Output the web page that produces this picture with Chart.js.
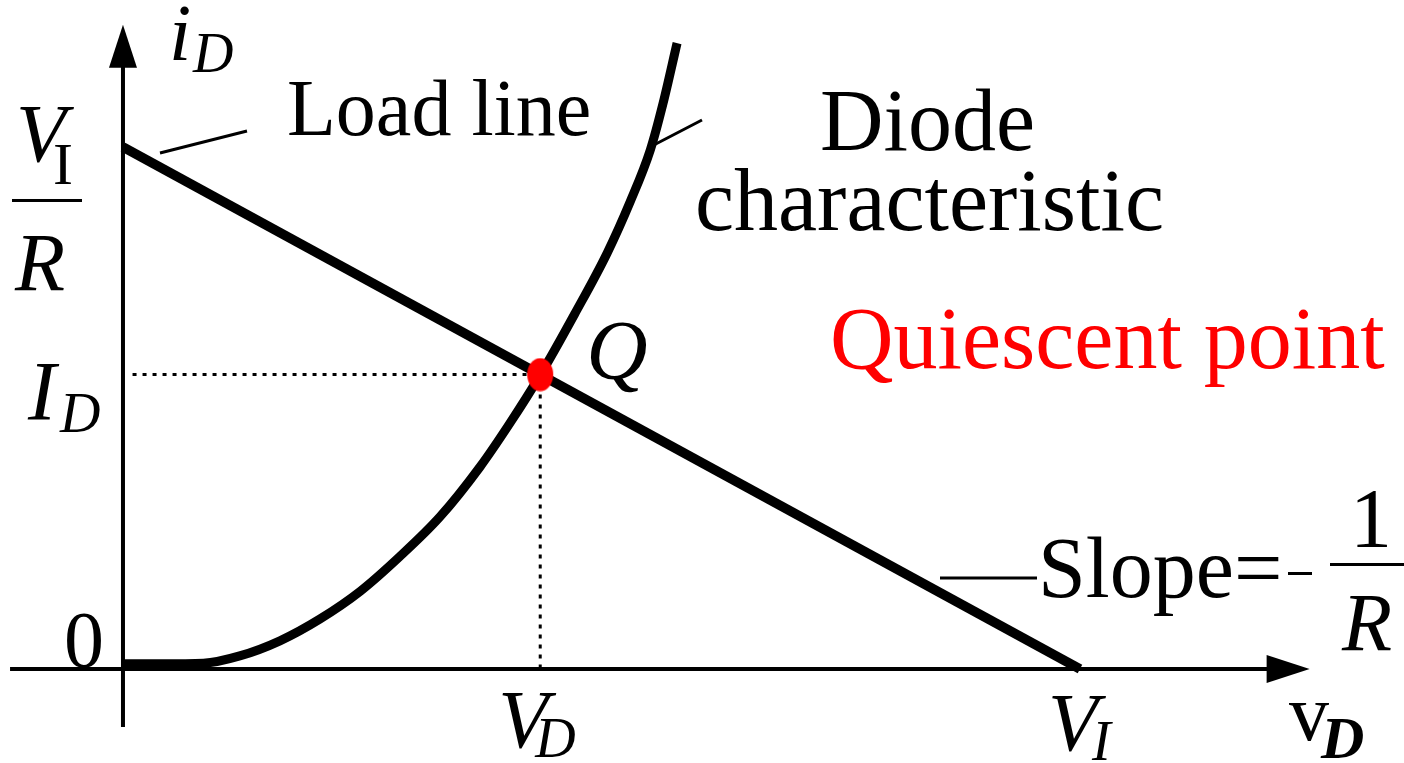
<!DOCTYPE html>
<html>
<head>
<meta charset="utf-8">
<title>Diode load line</title>
<script src="https://cdn.jsdelivr.net/npm/chart.js@4"></script>
<style>
  html, body { margin: 0; padding: 0; background: #fff; }
  #wrap { width: 1404px; height: 763px; }
</style>
</head>
<body>
<div id="wrap"><canvas id="c" width="1404" height="763"></canvas></div>
<script>
// Supply voltage and load-line intercepts (normalised units: V_I = 10, V_I/R = 10)
const loadV = [0, 10];
const loadI = [10, 0];

// Diode i-v characteristic, read point by point
const diodeV = [0, 0.39, 0.84, 1.22, 1.64, 2.06, 2.48, 2.89, 3.31, 3.73, 4.04, 4.36, 4.72, 5.06, 5.30, 5.51, 5.64, 5.79];
const diodeI = [0.10, 0.10, 0.11, 0.25, 0.54, 0.96, 1.49, 2.15, 2.91, 3.87, 4.70, 5.63, 6.80, 7.97, 8.95, 9.94, 10.81, 11.99];

// Operating (quiescent) point
const qV = [4.36];
const qI = [5.64];

// Axis extents (where the axis lines and arrows end)
const axisX = [-1.18, 12.40];
const axisY = [-1.11, 12.34];

const toPts = (xs, ys) => xs.map((x, i) => ({ x, y: ys[i] }));

// red operating-point marker (slightly tall ellipse)
const dot = document.createElement('canvas');
dot.width = 28; dot.height = 34;
{
  const g = dot.getContext('2d');
  g.fillStyle = '#ff0000';
  g.beginPath();
  g.ellipse(14, 17, 13, 16.5, 0, 0, Math.PI * 2);
  g.fill();
}

const SERIF = '"Liberation Serif", "Times New Roman", serif';

const axesPlugin = {
  id: 'axesArrows',
  beforeDatasetsDraw(chart) {
    const { ctx, scales: { x, y } } = chart;
    const x0 = x.getPixelForValue(0), y0 = y.getPixelForValue(0);
    const xs = x.getPixelForValue(axisX[0]), xe = x.getPixelForValue(axisX[1]);
    const ys = y.getPixelForValue(axisY[0]), ye = y.getPixelForValue(axisY[1]);
    ctx.save();
    ctx.strokeStyle = '#000';
    ctx.fillStyle = '#000';
    ctx.lineWidth = 4;
    ctx.beginPath();
    ctx.moveTo(xs, y0); ctx.lineTo(xe - 30, y0);
    ctx.moveTo(x0, ys); ctx.lineTo(x0, ye + 30);
    ctx.stroke();
    // arrow heads
    ctx.beginPath();
    ctx.moveTo(xe, y0); ctx.lineTo(xe - 43, y0 - 14); ctx.lineTo(xe - 43, y0 + 14); ctx.closePath();
    ctx.fill();
    ctx.beginPath();
    ctx.moveTo(x0, ye); ctx.lineTo(x0 - 14, ye + 43); ctx.lineTo(x0 + 14, ye + 43); ctx.closePath();
    ctx.fill();
    ctx.restore();
  }
};

function txt(ctx, s, px, py, size, style, color) {
  ctx.font = (style ? style + ' ' : '') + size + 'px ' + SERIF;
  ctx.fillStyle = color || '#000';
  ctx.fillText(s, px, py);
}

const labelPlugin = {
  id: 'labels',
  afterDatasetsDraw(chart) {
    const { ctx, scales: { x, y } } = chart;
    const px = v => x.getPixelForValue(v);
    const py = v => y.getPixelForValue(v);
    ctx.save();
    ctx.textBaseline = 'alphabetic';
    ctx.textAlign = 'left';

    // leader lines
    ctx.strokeStyle = '#000';
    ctx.lineWidth = 3;
    ctx.beginPath();
    ctx.moveTo(160, 153); ctx.lineTo(247, 131);      // load line
    ctx.moveTo(650, 147); ctx.lineTo(702, 120);      // diode characteristic
    ctx.moveTo(940, 578); ctx.lineTo(1037, 578);     // slope
    ctx.stroke();

    // vertical axis label i_D
    txt(ctx, 'i', 169, 60, 80, 'italic');
    txt(ctx, 'D', 193, 72, 56, 'italic');

    // V_I / R on the current axis
    const yTop = py(loadI[0]);
    txt(ctx, 'V', 16, yTop + 14, 82, 'italic');
    txt(ctx, 'I', 53, yTop + 37, 60, '');
    ctx.fillRect(12, yTop + 52, 70, 3);
    txt(ctx, 'R', 15, yTop + 143, 82, 'italic');

    // I_D
    const yq = py(qI[0]);
    txt(ctx, 'I', 28, yq + 45, 84, 'italic');
    txt(ctx, 'D', 60, yq + 57, 56, 'italic');

    // origin
    txt(ctx, '0', 64, py(0) - 2, 80, '');

    // V_D
    const xq = px(qV[0]);
    txt(ctx, 'V', xq - 42, py(0) + 78, 82, 'italic');
    txt(ctx, 'D', xq - 5, py(0) + 88, 56, 'italic');

    // V_I
    const xv = px(loadV[1]);
    txt(ctx, 'V', xv - 32, py(0) + 81, 82, 'italic');
    txt(ctx, 'I', xv + 12, py(0) + 91, 56, 'italic');

    // horizontal axis label v_D
    txt(ctx, 'v', 1289, 740, 80, '');
    txt(ctx, 'D', 1321, 758, 60, 'italic bold');

    // text annotations
    txt(ctx, 'Load line', 287, 135, 80, '');
    txt(ctx, 'Diode', 820, 150, 88, '');
    txt(ctx, 'characteristic', 695, 230, 88, '');
    txt(ctx, 'Quiescent point', 830, 368, 88, '', '#ff0000');
    txt(ctx, 'Q', xq + 46, yq + 4, 85, 'italic');

    // Slope = -1/R
    txt(ctx, 'Slope=', 1038, 597, 86, '');
    ctx.fillRect(1288, 572, 24, 3);
    txt(ctx, '1', 1350, 547, 84, '');
    ctx.fillRect(1330, 563, 74, 3);
    txt(ctx, 'R', 1342, 650, 82, 'italic');
    ctx.restore();
  }
};

new Chart(document.getElementById('c'), {
  type: 'scatter',
  data: {
    datasets: [
      {
        label: 'Quiescent point',
        data: toPts(qV, qI),
        pointStyle: dot, pointRadius: 14, showLine: false,
        order: 0
      },
      {
        label: 'Diode characteristic',
        data: toPts(diodeV, diodeI),
        showLine: true, borderColor: '#000', borderWidth: 9,
        cubicInterpolationMode: 'monotone', borderCapStyle: 'butt',
        pointRadius: 0, order: 1
      },
      {
        label: 'Load line',
        data: toPts(loadV, loadI),
        showLine: true, borderColor: '#000', borderWidth: 9.5,
        borderCapStyle: 'butt', pointRadius: 0, order: 2
      },
      {
        label: 'I_D guide',
        data: [{ x: 0.1, y: qI[0] }, { x: qV[0], y: qI[0] }],
        showLine: true, borderColor: '#000', borderWidth: 3, borderDash: [4, 6],
        pointRadius: 0, order: 3
      },
      {
        label: 'V_D guide',
        data: [{ x: qV[0], y: qI[0] }, { x: qV[0], y: 0 }],
        showLine: true, borderColor: '#000', borderWidth: 3, borderDash: [4, 6],
        pointRadius: 0, order: 4
      }
    ]
  },
  options: {
    responsive: false,
    animation: false,
    events: [],
    layout: { padding: 0, autoPadding: false },
    plugins: { legend: { display: false }, tooltip: { enabled: false } },
    scales: {
      x: { type: 'linear', min: -1.285, max: 13.386, display: false },
      y: { type: 'linear', min: -1.801, max: 12.816, display: false }
    }
  },
  plugins: [axesPlugin, labelPlugin]
});
</script>
</body>
</html>
